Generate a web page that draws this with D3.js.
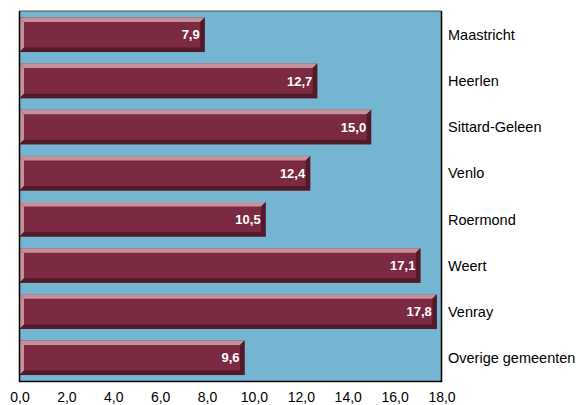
<!DOCTYPE html>
<html>
<head>
<meta charset="utf-8">
<script src="https://cdn.jsdelivr.net/npm/d3@7"></script>
<style>
  html, body { margin: 0; padding: 0; background: #ffffff; }
  svg { display: block; font-family: "Liberation Sans", Arial, sans-serif; }
</style>
</head>
<body>
<svg id="chart" width="581" height="405"></svg>
<script>
// Municipalities and their values
const categories = ["Maastricht", "Heerlen", "Sittard-Geleen", "Venlo", "Roermond", "Weert", "Venray", "Overige gemeenten"];
const values = [7.9, 12.7, 15.0, 12.4, 10.5, 17.1, 17.8, 9.6];
const xTicks = [0, 2, 4, 6, 8, 10, 12, 14, 16, 18];

const svg = d3.select("#chart");
const plot = { left: 19.5, right: 441.5, top: 11, bottom: 381.5 };

const fmt = v => d3.format(".1f")(v).replace(".", ",");

const x = d3.scaleLinear().domain([0, 18]).range([plot.left, plot.right]);
const y = d3.scaleBand().domain(categories).range([plot.top, plot.bottom])
  .paddingInner(0.25).paddingOuter(0.14);

// Plot background
svg.append("rect")
  .attr("x", plot.left).attr("y", plot.top)
  .attr("width", plot.right - plot.left).attr("height", plot.bottom - plot.top)
  .attr("fill", "#74b5d1");

// Bevelled bars
const b = 4.5;
const colors = { face: "#7c2a41", light: "#c4929c", dark: "#501a2b" };
const data = categories.map((c, i) => ({ c, v: values[i] }));

const bars = svg.append("g").selectAll("g").data(data).join("g");
bars.each(function(d) {
  const g = d3.select(this);
  const x0 = x(0), x1 = x(d.v);
  const y0 = y(d.c), y1 = y(d.c) + y.bandwidth();
  const poly = pts => pts.map(p => p.join(",")).join(" ");
  g.append("rect").attr("x", x0).attr("y", y0).attr("width", x1 - x0).attr("height", y1 - y0)
    .attr("fill", colors.face);
  g.append("polygon").attr("fill", colors.light)
    .attr("points", poly([[x0, y0], [x1, y0], [x1 - b, y0 + b], [x0 + b, y0 + b]]));
  g.append("polygon").attr("fill", colors.light)
    .attr("points", poly([[x0, y0], [x0 + b, y0 + b], [x0 + b, y1 - b], [x0, y1]]));
  g.append("polygon").attr("fill", colors.dark)
    .attr("points", poly([[x0, y1], [x1, y1], [x1 - b, y1 - b], [x0 + b, y1 - b]]));
  g.append("polygon").attr("fill", colors.dark)
    .attr("points", poly([[x1, y0], [x1, y1], [x1 - b, y1 - b], [x1 - b, y0 + b]]));
  g.append("text")
    .attr("x", x1 - b - 0.5)
    .attr("y", (y0 + y1) / 2)
    .attr("dy", "0.36em")
    .attr("text-anchor", "end")
    .attr("fill", "#ffffff")
    .attr("font-weight", "bold")
    .attr("font-size", 13)
    .text(fmt(d.v));
});

// Frame
svg.append("line").attr("x1", plot.left).attr("x2", plot.right).attr("y1", plot.top).attr("y2", plot.top)
  .attr("stroke", "#555555").attr("stroke-width", 1.2);
svg.append("path")
  .attr("d", `M${plot.left},${plot.top}V${plot.bottom}H${plot.right}V${plot.top}`)
  .attr("fill", "none").attr("stroke", "#000000").attr("stroke-width", 1.5);

// Category labels on the right
svg.append("g").selectAll("text").data(categories).join("text")
  .attr("x", 448)
  .attr("y", d => y(d) + y.bandwidth() / 2)
  .attr("dy", "0.36em")
  .attr("font-size", 14.5)
  .attr("fill", "#000000")
  .text(d => d);

// X axis labels
const xAxis = d3.axisBottom(x).tickValues(xTicks).tickFormat(fmt).tickSize(0).tickPadding(0);
const ax = svg.append("g").attr("transform", `translate(0,${plot.bottom})`).call(xAxis);
ax.select(".domain").remove();
ax.selectAll("text")
  .attr("y", 20.5)
  .attr("dy", 0)
  .attr("font-size", 14)
  .attr("font-family", "\"Liberation Sans\", Arial, sans-serif")
  .attr("fill", "#000000");
</script>
</body>
</html>
